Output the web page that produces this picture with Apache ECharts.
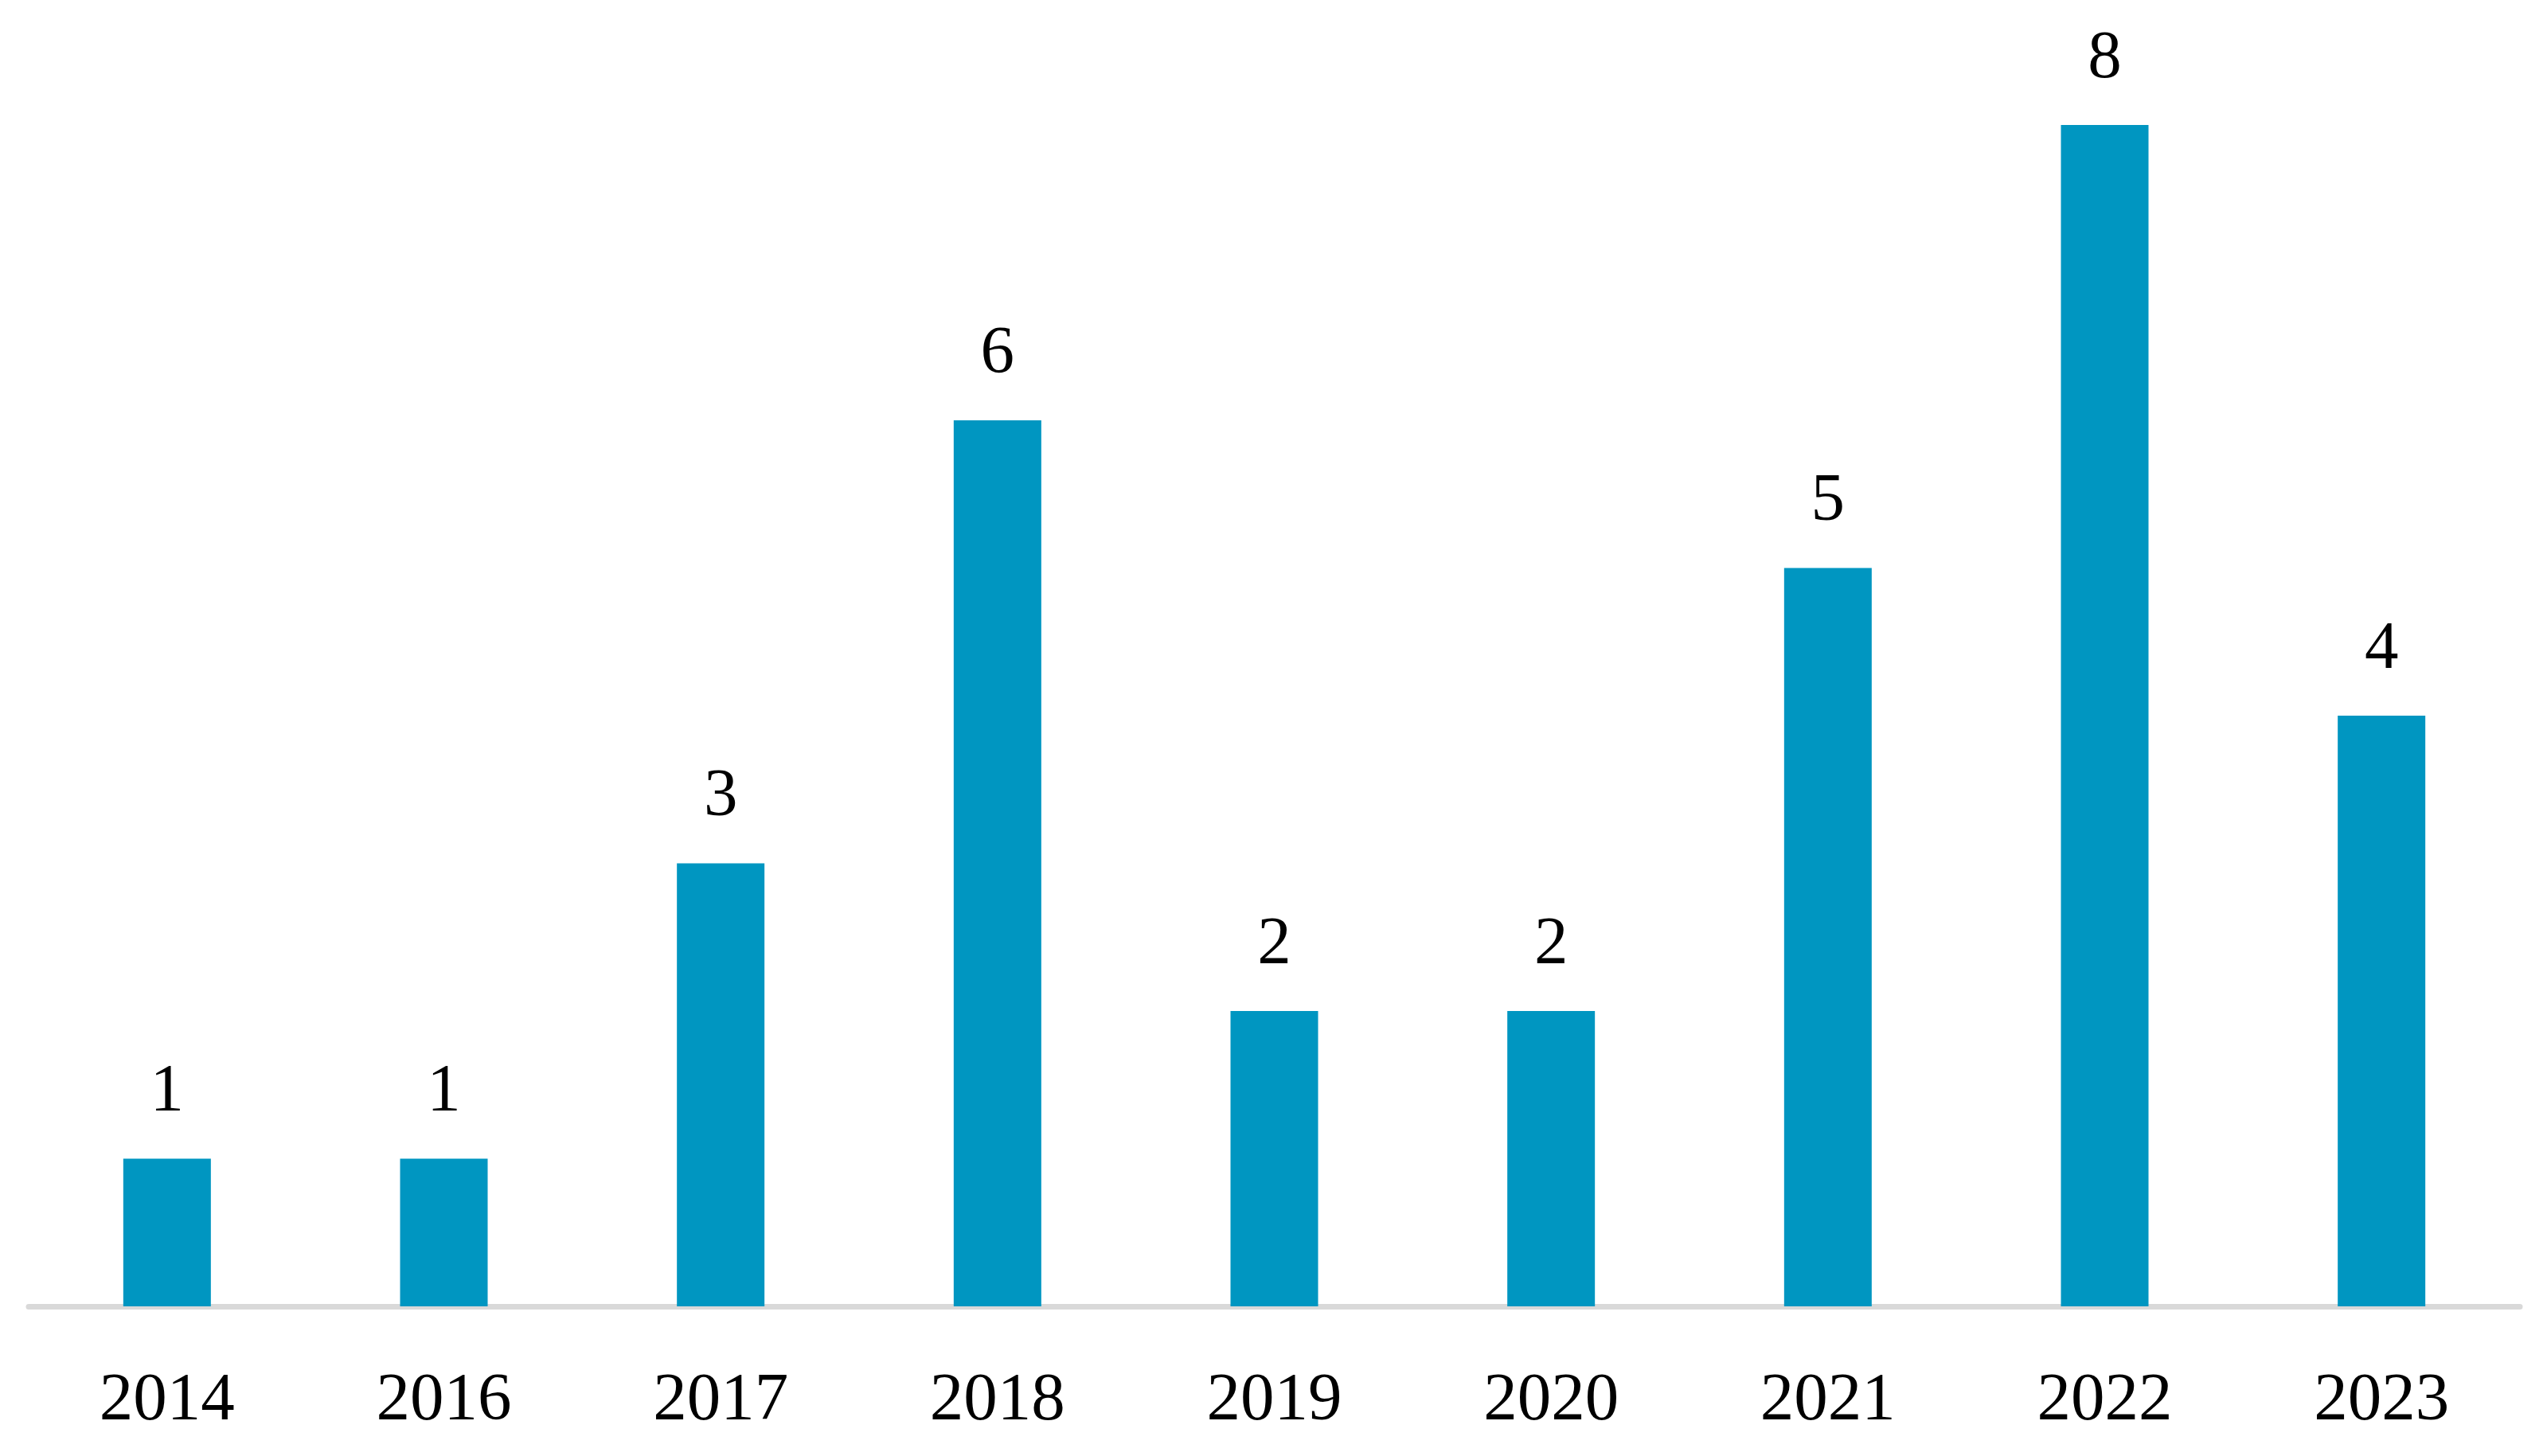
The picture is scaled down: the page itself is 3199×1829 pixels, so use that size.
<!DOCTYPE html>
<html>
<head>
<meta charset="utf-8">
<script src="https://cdn.jsdelivr.net/npm/echarts@6/dist/echarts.min.js"></script>
<style>html,body{margin:0;padding:0;background:#fff}#c{width:3199px;height:1829px}</style>
</head>
<body>
<div id="c"></div>
<script>
const years = ['2014','2016','2017','2018','2019','2020','2021','2022','2023'];
const counts = [1,1,3,6,2,2,5,8,4];

const chart = echarts.init(document.getElementById('c'), null, {renderer:'canvas'});
chart.setOption({
  backgroundColor:'#ffffff',
  animation:false,
  grid:{left:36, right:3199-3165, top:157, bottom:188, containLabel:false},
  xAxis:{
    type:'category',
    data:years,
    axisLine:{show:true, lineStyle:{color:'#d9d9d9', width:7}},
    axisTick:{show:false},
    axisLabel:{color:'#000', fontFamily:'Liberation Serif', fontSize:85, margin:77}
  },
  yAxis:{
    type:'value', min:0, max:8,
    show:false, splitLine:{show:false}
  },
  series:[{
    type:'bar',
    data:counts,
    barWidth:110,
    itemStyle:{color:'#0096c1'},
    label:{show:true, position:'top', distance:40, color:'#000', fontFamily:'Liberation Serif', fontSize:85}
  }]
});
</script>
</body>
</html>
